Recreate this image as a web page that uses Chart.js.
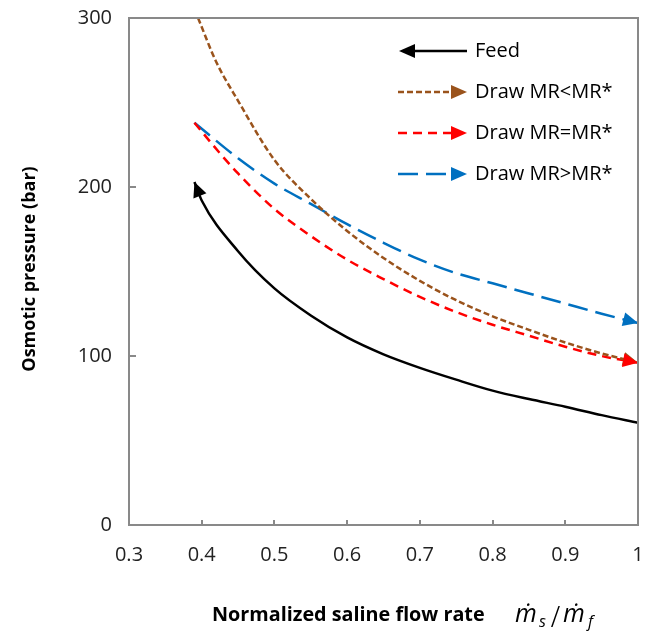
<!DOCTYPE html>
<html>
<head>
<meta charset="utf-8">
<script src="https://cdn.jsdelivr.net/npm/chart.js@4.4.1/dist/chart.umd.min.js"></script>
<style>
  html, body { margin: 0; padding: 0; background: #fff; }
</style>
</head>
<body>
<canvas id="chart" width="647" height="639"></canvas>
<script>
// values
const feedX = [0.39, 0.40, 0.45, 0.50, 0.55, 0.60, 0.65, 0.70, 0.75, 0.80, 0.85, 0.90, 0.95, 1.00]
const feedY = [203, 192, 162, 140, 124, 111, 101, 93, 86, 79.5, 74.5, 70, 65, 60.5]

const lessX = [0.395, 0.42, 0.45, 0.50, 0.55, 0.60, 0.65, 0.70, 0.75, 0.80, 0.85, 0.90, 0.95, 1.00]
const lessY = [300, 274, 251, 216, 193, 174, 158, 144.5, 133, 123.5, 115.5, 108, 101.5, 96]

const equalX = [0.39, 0.425, 0.45, 0.50, 0.55, 0.60, 0.65, 0.70, 0.75, 0.80, 0.85, 0.90, 0.95, 1.00]
const equalY = [238, 220, 208, 187, 171, 157, 145.5, 135, 126, 118.5, 112, 105.5, 100, 96]

const moreX = [0.39, 0.45, 0.50, 0.55, 0.60, 0.65, 0.70, 0.75, 0.80, 0.85, 0.90, 0.95, 1.00]
const moreY = [238, 217, 202, 190, 178, 167, 157, 149, 143, 137, 131, 125, 119.5]

const seriesLabels = ['Feed', 'Draw MR<MR*', 'Draw MR=MR*', 'Draw MR>MR*']
const xTicks = [0.3, 0.4, 0.5, 0.6, 0.7, 0.8, 0.9, 1]
const yTicks = [0, 100, 200, 300]

const FONT = '"Open Sans", "Noto Sans", sans-serif'
const AXIS_GREY = '#898989'

const toPoints = (xs, ys) => xs.map((x, i) => ({ x, y: ys[i] }))

// arrow: 'start' means head at the first point, 'end' at the last one
const styles = [
  { color: '#000000', dash: [], arrow: 'start' },
  { color: '#9A531C', dash: [6, 3], arrow: 'end' },
  { color: '#FF0000', dash: [9, 6], arrow: 'end' },
  { color: '#0070C0', dash: [20, 8], arrow: 'end' }
]

function arrowHead(ctx, tipX, tipY, fromX, fromY, color, len = 15, half = 7) {
  const a = Math.atan2(tipY - fromY, tipX - fromX)
  ctx.save()
  ctx.translate(tipX, tipY)
  ctx.rotate(a)
  ctx.fillStyle = color
  ctx.beginPath()
  ctx.moveTo(0, 0)
  ctx.lineTo(-len, -half)
  ctx.lineTo(-len, half)
  ctx.closePath()
  ctx.fill()
  ctx.restore()
}

const decorations = {
  id: 'decorations',
  afterDatasetsDraw(chart) {
    const { ctx, chartArea: area, scales } = chart
    const x = scales.x, y = scales.y

    // arrow heads on the curves
    chart.data.datasets.forEach((ds, i) => {
      const pts = chart.getDatasetMeta(i).data
      const st = styles[i]
      if (st.arrow === 'start') {
        arrowHead(ctx, pts[0].x, pts[0].y, pts[1].x, pts[1].y, st.color)
      } else {
        const n = pts.length
        arrowHead(ctx, pts[n - 1].x, pts[n - 1].y, pts[n - 2].x, pts[n - 2].y, st.color)
      }
    })

    // plot box and inside ticks
    ctx.save()
    ctx.strokeStyle = AXIS_GREY
    ctx.lineWidth = 2
    ctx.strokeRect(area.left, area.top, area.right - area.left, area.bottom - area.top)
    ctx.beginPath()
    xTicks.slice(1, -1).forEach(v => {
      const px = Math.round(x.getPixelForValue(v))
      ctx.moveTo(px, area.bottom)
      ctx.lineTo(px, area.bottom - 5)
    })
    yTicks.slice(1, -1).forEach(v => {
      const py = Math.round(y.getPixelForValue(v))
      ctx.moveTo(area.left, py)
      ctx.lineTo(area.left + 7, py)
    })
    ctx.stroke()

    // axis titles
    ctx.fillStyle = '#000'
    ctx.font = 'bold 18px ' + FONT
    ctx.textBaseline = 'middle'
    ctx.save()
    ctx.translate(30, 269)
    ctx.rotate(-Math.PI / 2)
    ctx.textAlign = 'center'
    ctx.fillText('Osmotic pressure (bar)', 0, 0)
    ctx.restore()

    ctx.textAlign = 'left'
    ctx.font = 'bold 19.8px ' + FONT
    ctx.fillText('Normalized saline flow rate', 212, 615)

    // m-dot_s / m-dot_f
    ctx.textBaseline = 'alphabetic'
    ctx.font = 'italic 25px ' + FONT
    ctx.fillText('\u1E41', 515, 622)
    ctx.font = 'italic 16px ' + FONT
    ctx.fillText('s', 539, 627)
    ctx.font = '32px "Liberation Serif", serif'
    ctx.fillText('/', 551, 627)
    ctx.font = 'italic 25px ' + FONT
    ctx.fillText('\u1E41', 563, 622)
    ctx.font = 'italic 16px ' + FONT
    ctx.fillText('f', 588, 627)

    // legend
    const rows = [51, 92, 133, 174]
    ctx.font = '20px ' + FONT
    ctx.textBaseline = 'middle'
    seriesLabels.forEach((label, i) => {
      const st = styles[i]
      const ly = rows[i]
      ctx.save()
      ctx.strokeStyle = st.color
      ctx.lineWidth = 2.5
      ctx.setLineDash(st.dash)
      ctx.beginPath()
      if (st.arrow === 'start') {
        ctx.moveTo(412, ly)
        ctx.lineTo(467, ly)
      } else {
        ctx.moveTo(398, ly)
        ctx.lineTo(454, ly)
      }
      ctx.stroke()
      ctx.restore()
      if (st.arrow === 'start') arrowHead(ctx, 399, ly, 467, ly, st.color, 16, 7)
      else arrowHead(ctx, 467, ly, 398, ly, st.color, 16, 7)
      ctx.fillStyle = '#000'
      ctx.fillText(label, 475, ly)
    })
    ctx.restore()
  }
}

new Chart(document.getElementById('chart'), {
  type: 'line',
  data: {
    datasets: [
      { label: seriesLabels[0], data: toPoints(feedX, feedY) },
      { label: seriesLabels[1], data: toPoints(lessX, lessY) },
      { label: seriesLabels[2], data: toPoints(equalX, equalY) },
      { label: seriesLabels[3], data: toPoints(moreX, moreY) }
    ].map((ds, i) => ({
      ...ds,
      borderColor: styles[i].color,
      borderDash: styles[i].dash,
      borderWidth: 2.5,
      pointRadius: 0,
      fill: false,
      cubicInterpolationMode: 'monotone'
    }))
  },
  options: {
    responsive: false,
    animation: false,
    devicePixelRatio: 1,
    layout: { padding: { top: 18, right: 9, left: 0, bottom: 0 } },
    plugins: {
      legend: { display: false },
      tooltip: { enabled: false }
    },
    scales: {
      x: {
        type: 'linear',
        min: 0.3,
        max: 1,
        // fixed size, and no extra room for the end labels
        afterFit: (s) => { s.height = 114; s.paddingLeft = 0; s.paddingRight = 0 },
        afterBuildTicks: (s) => { s.ticks = xTicks.map(v => ({ value: v })) },
        grid: { display: false, drawTicks: false },
        border: { display: false },
        ticks: {
          padding: 18,
          color: '#222',
          font: { family: FONT, size: 20 },
          maxRotation: 0,
          callback: (v) => String(Number(v.toFixed(1)))
        }
      },
      y: {
        min: 0,
        max: 300,
        afterFit: (s) => { s.width = 129; s.paddingTop = 0; s.paddingBottom = 0 },
        afterBuildTicks: (s) => { s.ticks = yTicks.map(v => ({ value: v })) },
        grid: { display: false, drawTicks: false },
        border: { display: false },
        ticks: {
          padding: 17,
          color: '#222',
          font: { family: FONT, size: 20 }
        }
      }
    }
  },
  plugins: [decorations]
})
</script>
</body>
</html>
